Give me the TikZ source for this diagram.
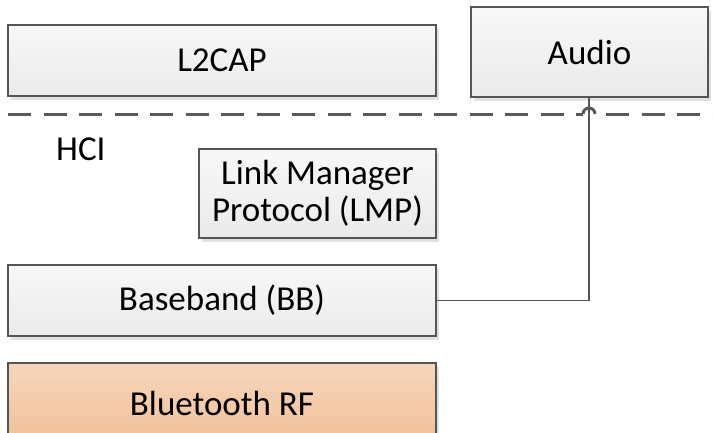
\documentclass[tikz,border=0pt]{standalone}
\usepackage{fontspec}
\setmainfont{Carlito}
\usetikzlibrary{shadows}
\definecolor{edge}{HTML}{555555}
\definecolor{dashc}{HTML}{595959}
\definecolor{boxtop}{HTML}{F8F8F8}
\definecolor{boxbot}{HTML}{EAEAEA}
\definecolor{rftop}{HTML}{F7D6BC}
\definecolor{rfbot}{HTML}{F0C09A}
\definecolor{shad}{HTML}{DFE1E3}
\tikzset{
  layerbox/.style={draw=edge, line width=1.3pt, top color=boxtop, bottom color=boxbot,
    inner sep=0pt, align=center, font=\fontsize{35}{37}\selectfont,
    drop shadow={shadow xshift=3pt, shadow yshift=-4pt, fill=shad, opacity=1}},
  rfbox/.style={layerbox, top color=rftop, bottom color=rfbot},
  wire/.style={draw=edge, line width=1.3pt},
  hciline/.style={draw=dashc, line width=3pt, dash pattern=on 23pt off 12.5pt},
  plain/.style={font=\fontsize{35}{37}\selectfont, inner sep=0pt}
}
\begin{document}
\begin{tikzpicture}[x=1pt,y=-1pt]
\useasboundingbox (0,0) rectangle (713,432);
\clip (0,0) rectangle (713,432);
\node[layerbox, minimum width=428pt, minimum height=71pt] (l2cap) at (222,60.5) {L2CAP};
\node[layerbox, minimum width=237pt, minimum height=90pt] (audio) at (589.5,52) {Audio};
\node[layerbox, minimum width=237pt, minimum height=89pt] (lmp) at (317.5,193.5) {Link Manager\\Protocol (LMP)};
\node[layerbox, minimum width=428pt, minimum height=71pt] (bb) at (222,300.5) {Baseband (BB)};
\node[rfbox, minimum width=428pt, minimum height=80pt] (rf) at (222,403) {Bluetooth RF};
\node[plain, anchor=base west] (hci) at (56,160) {HCI};
\coordinate (hl) at (8,114);
\coordinate (hr) at (713,114);
\coordinate (j1) at (583,114);
\coordinate (j2) at (595,114);
\coordinate (corner) at (589,300.5);
\draw[hciline] (hl) -- (j1);
\draw[draw=dashc, line width=3pt] (j1) arc[start angle=180, end angle=0, radius=6pt];
\draw[hciline, dash phase=24.5pt] (j2) -- (hr);
\draw[wire] (audio.south -| corner) -- (corner) -- (bb.east);
\end{tikzpicture}
\end{document}
